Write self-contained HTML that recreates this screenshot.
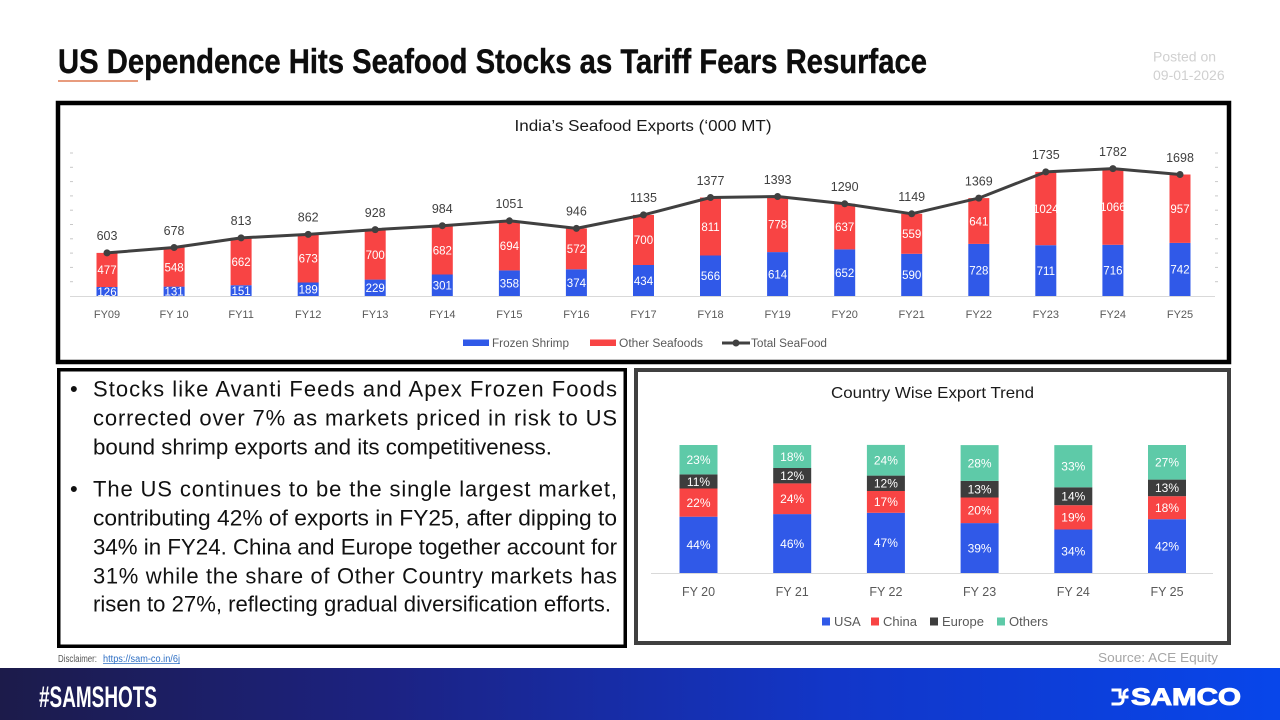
<!DOCTYPE html>
<html><head><meta charset="utf-8"><style>
html,body{margin:0;padding:0;background:#fff;}
svg{display:block;}
text{font-family:"Liberation Sans",sans-serif;}
</style></head><body>
<svg width="1280" height="720" viewBox="0 0 1280 720" xmlns="http://www.w3.org/2000/svg">
<defs>
<linearGradient id="ft" x1="0" y1="0" x2="1" y2="0">
<stop offset="0" stop-color="#1c1b4a"/>
<stop offset="0.3" stop-color="#1c2282"/>
<stop offset="0.65" stop-color="#1236c8"/>
<stop offset="1" stop-color="#0846ea"/>
</linearGradient>
</defs>
<rect width="1280" height="720" fill="#fff"/>

<!-- Title -->
<text x="58" y="73" font-size="34" font-weight="bold" fill="#0d0d0d" stroke="#0d0d0d" stroke-width="0.4" textLength="869" lengthAdjust="spacingAndGlyphs">US Dependence Hits Seafood Stocks as Tariff Fears Resurface</text>
<line x1="58" y1="81" x2="138" y2="81" stroke="#e07b54" stroke-width="1.5"/>
<text x="1153" y="61.5" font-size="14" fill="#d0d0d0">Posted on</text>
<text x="1153" y="80" font-size="14" fill="#d0d0d0">09-01-2026</text>

<!-- Top chart box -->
<rect x="58" y="103" width="1171" height="259" fill="none" stroke="#000" stroke-width="4.5"/>
<text x="643" y="131" font-size="15.5" fill="#1a1a1a" text-anchor="middle" textLength="257" lengthAdjust="spacingAndGlyphs">India’s Seafood Exports (‘000 MT)</text>

<!-- ticks -->
<g stroke="#c8c8c8" stroke-width="1">
<line x1="70" y1="281.7" x2="73" y2="281.7"/><line x1="70" y1="267.4" x2="73" y2="267.4"/><line x1="70" y1="253.1" x2="73" y2="253.1"/><line x1="70" y1="238.8" x2="73" y2="238.8"/><line x1="70" y1="224.5" x2="73" y2="224.5"/><line x1="70" y1="210.2" x2="73" y2="210.2"/><line x1="70" y1="195.9" x2="73" y2="195.9"/><line x1="70" y1="181.6" x2="73" y2="181.6"/><line x1="70" y1="167.3" x2="73" y2="167.3"/><line x1="70" y1="153" x2="73" y2="153"/>
<line x1="1215" y1="281.7" x2="1218" y2="281.7"/><line x1="1215" y1="267.4" x2="1218" y2="267.4"/><line x1="1215" y1="253.1" x2="1218" y2="253.1"/><line x1="1215" y1="238.8" x2="1218" y2="238.8"/><line x1="1215" y1="224.5" x2="1218" y2="224.5"/><line x1="1215" y1="210.2" x2="1218" y2="210.2"/><line x1="1215" y1="195.9" x2="1218" y2="195.9"/><line x1="1215" y1="181.6" x2="1218" y2="181.6"/><line x1="1215" y1="167.3" x2="1218" y2="167.3"/><line x1="1215" y1="153" x2="1218" y2="153"/>
</g>
<line x1="70" y1="296.5" x2="1215" y2="296.5" stroke="#d9d9d9" stroke-width="1"/>

<!-- blue bars -->
<g fill="#3059e8">
<rect x="96.5" y="287" width="21" height="9"/>
<rect x="163.6" y="286.6" width="21" height="9.4"/>
<rect x="230.6" y="285.2" width="21" height="10.8"/>
<rect x="297.7" y="282.5" width="21" height="13.5"/>
<rect x="364.7" y="279.6" width="21" height="16.4"/>
<rect x="431.8" y="274.5" width="21" height="21.5"/>
<rect x="498.9" y="270.4" width="21" height="25.6"/>
<rect x="565.9" y="269.3" width="21" height="26.7"/>
<rect x="633" y="265" width="21" height="31"/>
<rect x="700" y="255.5" width="21" height="40.5"/>
<rect x="767.1" y="252.1" width="21" height="43.9"/>
<rect x="834.2" y="249.4" width="21" height="46.6"/>
<rect x="901.2" y="253.8" width="21" height="42.2"/>
<rect x="968.3" y="243.9" width="21" height="52.1"/>
<rect x="1035.3" y="245.2" width="21" height="50.8"/>
<rect x="1102.4" y="244.8" width="21" height="51.2"/>
<rect x="1169.5" y="242.9" width="21" height="53.1"/>
</g>
<!-- red bars -->
<g fill="#f84444">
<rect x="96.5" y="252.9" width="21" height="34.1"/>
<rect x="163.6" y="247.5" width="21" height="39.1"/>
<rect x="230.6" y="237.9" width="21" height="47.3"/>
<rect x="297.7" y="234.4" width="21" height="48.1"/>
<rect x="364.7" y="229.6" width="21" height="50"/>
<rect x="431.8" y="225.7" width="21" height="48.8"/>
<rect x="498.9" y="220.8" width="21" height="49.6"/>
<rect x="565.9" y="228.4" width="21" height="40.9"/>
<rect x="633" y="214.9" width="21" height="50.1"/>
<rect x="700" y="197.5" width="21" height="58"/>
<rect x="767.1" y="196.5" width="21" height="55.6"/>
<rect x="834.2" y="203.8" width="21" height="45.6"/>
<rect x="901.2" y="213.8" width="21" height="40"/>
<rect x="968.3" y="198.1" width="21" height="45.8"/>
<rect x="1035.3" y="171.9" width="21" height="73.3"/>
<rect x="1102.4" y="168.6" width="21" height="76.2"/>
<rect x="1169.5" y="174.5" width="21" height="68.4"/>
</g>

<!-- inner labels -->
<g font-size="11.5" fill="#fff" text-anchor="middle">
<text x="107" y="295.8">126</text><text x="174.1" y="295.6">131</text><text x="241.1" y="294.9">151</text><text x="308.2" y="293.5">189</text><text x="375.2" y="292.1">229</text><text x="442.3" y="289.5">301</text><text x="509.4" y="287.5">358</text><text x="576.4" y="286.9">374</text><text x="643.5" y="284.8">434</text><text x="710.5" y="280">566</text><text x="777.6" y="278.3">614</text><text x="844.7" y="277">652</text><text x="911.7" y="279.2">590</text><text x="978.8" y="274.3">728</text><text x="1045.8" y="274.9">711</text><text x="1112.9" y="274.7">716</text><text x="1180" y="273.7">742</text>
<text x="107" y="274.2">477</text><text x="174.1" y="271.3">548</text><text x="241.1" y="265.8">662</text><text x="308.2" y="262.7">673</text><text x="375.2" y="258.9">700</text><text x="442.3" y="254.4">682</text><text x="509.4" y="249.9">694</text><text x="576.4" y="253.1">572</text><text x="643.5" y="244.2">700</text><text x="710.5" y="230.8">811</text><text x="777.6" y="228.6">778</text><text x="844.7" y="230.9">637</text><text x="911.7" y="238.1">559</text><text x="978.8" y="225.3">641</text><text x="1045.8" y="212.8">1024</text><text x="1112.9" y="211">1066</text><text x="1180" y="213">957</text>
</g>

<!-- total line -->
<polyline fill="none" stroke="#404040" stroke-width="3" stroke-linejoin="round" points="107,252.9 174.1,247.5 241.1,237.9 308.2,234.4 375.2,229.6 442.3,225.7 509.4,220.8 576.4,228.4 643.5,214.9 710.5,197.5 777.6,196.5 844.7,203.8 911.7,213.8 978.8,198.1 1045.8,171.9 1112.9,168.6 1180,174.5"/>
<g fill="#404040">
<circle cx="107" cy="252.9" r="3.5"/><circle cx="174.1" cy="247.5" r="3.5"/><circle cx="241.1" cy="237.9" r="3.5"/><circle cx="308.2" cy="234.4" r="3.5"/><circle cx="375.2" cy="229.6" r="3.5"/><circle cx="442.3" cy="225.7" r="3.5"/><circle cx="509.4" cy="220.8" r="3.5"/><circle cx="576.4" cy="228.4" r="3.5"/><circle cx="643.5" cy="214.9" r="3.5"/><circle cx="710.5" cy="197.5" r="3.5"/><circle cx="777.6" cy="196.5" r="3.5"/><circle cx="844.7" cy="203.8" r="3.5"/><circle cx="911.7" cy="213.8" r="3.5"/><circle cx="978.8" cy="198.1" r="3.5"/><circle cx="1045.8" cy="171.9" r="3.5"/><circle cx="1112.9" cy="168.6" r="3.5"/><circle cx="1180" cy="174.5" r="3.5"/>
</g>
<g font-size="12.5" fill="#404040" text-anchor="middle">
<text x="107" y="240.2">603</text><text x="174.1" y="234.8">678</text><text x="241.1" y="225.2">813</text><text x="308.2" y="221.7">862</text><text x="375.2" y="216.9">928</text><text x="442.3" y="213">984</text><text x="509.4" y="208.1">1051</text><text x="576.4" y="215.7">946</text><text x="643.5" y="202.2">1135</text><text x="710.5" y="184.8">1377</text><text x="777.6" y="183.8">1393</text><text x="844.7" y="191.1">1290</text><text x="911.7" y="201.1">1149</text><text x="978.8" y="185.4">1369</text><text x="1045.8" y="159.2">1735</text><text x="1112.9" y="155.9">1782</text><text x="1180" y="161.8">1698</text>
</g>

<!-- x labels -->
<g font-size="11" fill="#595959" text-anchor="middle">
<text x="107" y="318">FY09</text><text x="174.1" y="318">FY 10</text><text x="241.1" y="318">FY11</text><text x="308.2" y="318">FY12</text><text x="375.2" y="318">FY13</text><text x="442.3" y="318">FY14</text><text x="509.4" y="318">FY15</text><text x="576.4" y="318">FY16</text><text x="643.5" y="318">FY17</text><text x="710.5" y="318">FY18</text><text x="777.6" y="318">FY19</text><text x="844.7" y="318">FY20</text><text x="911.7" y="318">FY21</text><text x="978.8" y="318">FY22</text><text x="1045.8" y="318">FY23</text><text x="1112.9" y="318">FY24</text><text x="1180" y="318">FY25</text>
</g>

<!-- legend top -->
<rect x="463" y="339.5" width="26" height="6.5" fill="#3059e8"/>
<text x="492" y="347" font-size="11.5" fill="#595959" textLength="77" lengthAdjust="spacingAndGlyphs">Frozen Shrimp</text>
<rect x="590" y="339.5" width="26" height="6.5" fill="#f84444"/>
<text x="619" y="347" font-size="11.5" fill="#595959" textLength="84" lengthAdjust="spacingAndGlyphs">Other Seafoods</text>
<line x1="722" y1="343" x2="750" y2="343" stroke="#404040" stroke-width="3"/>
<circle cx="736" cy="343" r="3.5" fill="#404040"/>
<text x="751" y="347" font-size="11.5" fill="#595959" textLength="76" lengthAdjust="spacingAndGlyphs">Total SeaFood</text>

<!-- Text box -->
<rect x="58.75" y="369.75" width="566.5" height="276.5" fill="none" stroke="#000" stroke-width="3.5"/>
<g font-size="22" fill="#111">
<text x="70" y="396.5">•</text>
<text x="93" y="396.5" textLength="524" lengthAdjust="spacing">Stocks like Avanti Feeds and Apex Frozen Foods</text>
<text x="93" y="425.5" textLength="524" lengthAdjust="spacing">corrected over 7% as markets priced in risk to US</text>
<text x="93" y="454.3" textLength="459" lengthAdjust="spacingAndGlyphs">bound shrimp exports and its competitiveness.</text>
<text x="70" y="496.7">•</text>
<text x="93" y="496.7" textLength="524" lengthAdjust="spacing">The US continues to be the single largest market,</text>
<text x="93" y="525.7" textLength="524" lengthAdjust="spacingAndGlyphs">contributing 42% of exports in FY25, after dipping to</text>
<text x="93" y="554.3" textLength="524" lengthAdjust="spacingAndGlyphs">34% in FY24. China and Europe together account for</text>
<text x="93" y="583.3" textLength="524" lengthAdjust="spacing">31% while the share of Other Country markets has</text>
<text x="93" y="611.7" textLength="518" lengthAdjust="spacingAndGlyphs">risen to 27%, reflecting gradual diversification efforts.</text>
</g>

<!-- Bottom chart box -->
<rect x="636" y="370" width="593" height="273" fill="none" stroke="#404040" stroke-width="4"/>
<text x="932.5" y="398" font-size="16" fill="#1a1a1a" text-anchor="middle" textLength="203" lengthAdjust="spacingAndGlyphs">Country Wise Export Trend</text>
<line x1="651" y1="573.5" x2="1213" y2="573.5" stroke="#d9d9d9" stroke-width="1"/>
<g fill="#3059e8">
<rect x="679.5" y="516.7" width="38" height="56.3"/><rect x="773.2" y="514.1" width="38" height="58.9"/><rect x="866.9" y="512.8" width="38" height="60.2"/><rect x="960.6" y="523.1" width="38" height="49.9"/><rect x="1054.3" y="529.5" width="38" height="43.5"/><rect x="1148" y="519.2" width="38" height="53.8"/>
</g>
<g fill="#f84444">
<rect x="679.5" y="488.5" width="38" height="28.2"/><rect x="773.2" y="483.4" width="38" height="30.7"/><rect x="866.9" y="491" width="38" height="21.8"/><rect x="960.6" y="497.5" width="38" height="25.6"/><rect x="1054.3" y="505.2" width="38" height="24.3"/><rect x="1148" y="496.2" width="38" height="23"/>
</g>
<g fill="#3d3d3d">
<rect x="679.5" y="474.4" width="38" height="14.1"/><rect x="773.2" y="468" width="38" height="15.4"/><rect x="866.9" y="475.6" width="38" height="15.4"/><rect x="960.6" y="480.9" width="38" height="16.6"/><rect x="1054.3" y="487.3" width="38" height="17.9"/><rect x="1148" y="479.6" width="38" height="16.6"/>
</g>
<g fill="#5ecaa8">
<rect x="679.5" y="445" width="38" height="29.4"/><rect x="773.2" y="445" width="38" height="23"/><rect x="866.9" y="444.9" width="38" height="30.7"/><rect x="960.6" y="445.1" width="38" height="35.8"/><rect x="1054.3" y="445.1" width="38" height="42.2"/><rect x="1148" y="445" width="38" height="34.6"/>
</g>
<g font-size="12" fill="#fff" text-anchor="middle">
<text x="698.5" y="549.2">44%</text><text x="698.5" y="506.9">22%</text><text x="698.5" y="485.8">11%</text><text x="698.5" y="464">23%</text>
<text x="792.2" y="547.9">46%</text><text x="792.2" y="503.1">24%</text><text x="792.2" y="480">12%</text><text x="792.2" y="460.8">18%</text>
<text x="885.9" y="547.2">47%</text><text x="885.9" y="506.2">17%</text><text x="885.9" y="487.6">12%</text><text x="885.9" y="464.6">24%</text>
<text x="979.6" y="552.4">39%</text><text x="979.6" y="514.6">20%</text><text x="979.6" y="493.5">13%</text><text x="979.6" y="467.3">28%</text>
<text x="1073.3" y="555.6">34%</text><text x="1073.3" y="521.7">19%</text><text x="1073.3" y="500.6">14%</text><text x="1073.3" y="470.5">33%</text>
<text x="1167" y="550.4">42%</text><text x="1167" y="512">18%</text><text x="1167" y="492.2">13%</text><text x="1167" y="466.6">27%</text>
</g>
<g font-size="12.5" fill="#595959" text-anchor="middle">
<text x="698.5" y="596">FY 20</text><text x="792.2" y="596">FY 21</text><text x="885.9" y="596">FY 22</text><text x="979.6" y="596">FY 23</text><text x="1073.3" y="596">FY 24</text><text x="1167" y="596">FY 25</text>
</g>
<g font-size="13" fill="#595959">
<rect x="822" y="617.5" width="8" height="8" fill="#3059e8"/><text x="834" y="626">USA</text>
<rect x="871" y="617.5" width="8" height="8" fill="#f84444"/><text x="883" y="626">China</text>
<rect x="930" y="617.5" width="8" height="8" fill="#3d3d3d"/><text x="942" y="626">Europe</text>
<rect x="997" y="617.5" width="8" height="8" fill="#5ecaa8"/><text x="1009" y="626">Others</text>
</g>

<!-- disclaimer / source -->
<text x="58" y="662" font-size="10" fill="#555" textLength="39" lengthAdjust="spacingAndGlyphs">Disclaimer:</text>
<text x="103" y="662" font-size="10" fill="#2e6fc4" textLength="77" lengthAdjust="spacingAndGlyphs">https://sam-co.in/6j</text>
<line x1="103" y1="663.5" x2="180" y2="663.5" stroke="#2e6fc4" stroke-width="0.8"/>
<text x="1098" y="662" font-size="13" fill="#a6a6a6" textLength="120" lengthAdjust="spacingAndGlyphs">Source: ACE Equity</text>

<!-- footer -->
<rect x="0" y="668" width="1280" height="52" fill="url(#ft)"/>
<text x="39" y="707" font-size="30" font-weight="bold" fill="#fff" textLength="118" lengthAdjust="spacingAndGlyphs">#SAMSHOTS</text>
<g stroke="#fff" stroke-width="3" fill="none" stroke-linecap="square">
<path d="M1113,690 h7 v7 h7"/>
<path d="M1113,704 h6 a4,4 0 0 0 4,-4"/>
<path d="M1127,690 a4,4 0 0 0 -3,4"/>
</g>
<text x="1131" y="705" font-size="24" font-weight="bold" fill="#fff" stroke="#fff" stroke-width="1" textLength="110" lengthAdjust="spacingAndGlyphs">SAMCO</text>
</svg>
</body></html>
